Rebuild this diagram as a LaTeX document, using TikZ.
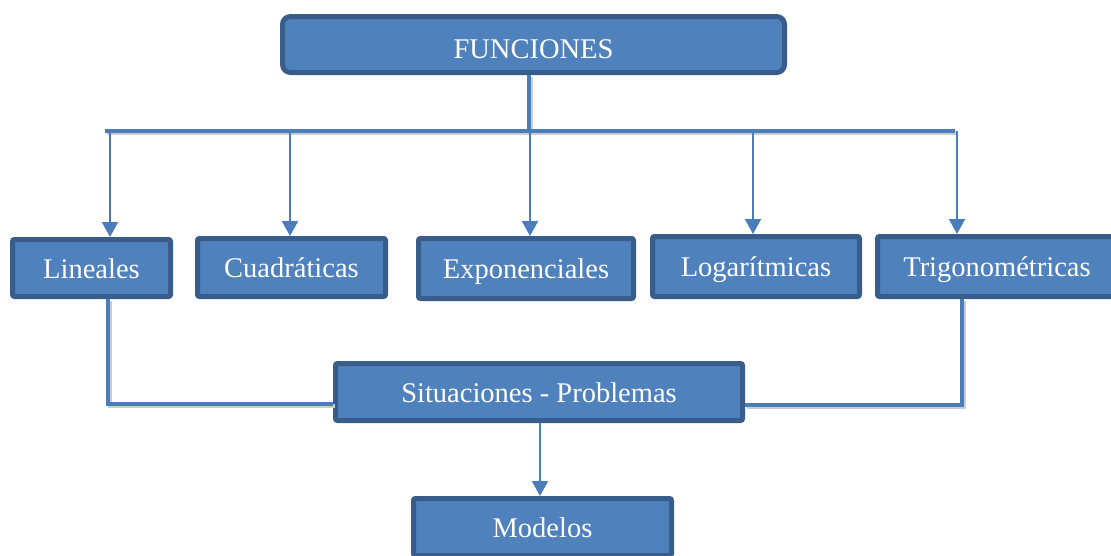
\documentclass[tikz,border=0pt]{standalone}
\usepackage{fontspec}
\setmainfont{Liberation Serif}
\usetikzlibrary{arrows.meta}
\definecolor{boxfill}{HTML}{4F81BD}
\definecolor{boxline}{HTML}{385D8A}
\definecolor{linkcol}{HTML}{4A7EBB}
\begin{document}
\begin{tikzpicture}[x=1pt, y=-1pt,
        every node/.style = {draw=boxline, fill=boxfill, line width=5pt,
            text=white, font=\fontsize{28.5}{32}\selectfont, inner sep=0pt,
            text height=22pt, text depth=2pt, rounded corners=2pt},
        link/.style = {draw=linkcol, line width=4pt,
            preaction={draw=black!20, line width=4pt, transform canvas={shift={(1.5pt,-2pt)}}}},
        arr/.style = {draw=linkcol, line width=2pt,
            -{Triangle[width=16pt,length=15pt]}}
        ]
    \useasboundingbox (0,0) rectangle (1111,555);
    % main box
    \node[minimum width=502pt, minimum height=56pt, rounded corners=8pt,
        text height=29pt] (fun) at (533.5,44.5) {FUNCIONES};
    % kinds of functions
    \node[minimum width=158pt, minimum height=57pt] (lin) at (91.5,268) {Lineales};
    \node[minimum width=188pt, minimum height=58pt] (cua) at (291.5,267.5) {Cuadráticas};
    \node[minimum width=215pt, minimum height=60pt] (exp) at (526,268.5) {Exponenciales};
    \node[minimum width=207pt, minimum height=60pt] (log) at (756,266.5) {Logarítmicas};
    \node[minimum width=239pt, minimum height=60pt] (tri) at (997,266.5) {Trigonométricas};
    % bottom
    \node[minimum width=407pt, minimum height=57pt] (sit) at (539,392) {Situaciones - Problemas};
    \node[minimum width=258pt, minimum height=57pt] (mod) at (542.5,527) {Modelos};
    % branching bar
    \coordinate (barL) at (105,131);
    \coordinate (barR) at (955,131);
    \draw[link] (fun.south -| 529,0) -- (529,131);
    \draw[link] (barL) -- (barR);
    \foreach \x/\n in {110/lin, 290/cua, 530/exp, 753/log, 957/tri}
        \draw[arr] (\x,131) -- (\x,0 |- \n.north);
    % joins into Situaciones - Problemas
    \draw[link] (108,0 |- lin.south) -- (108,404) -- (sit.west |- 0,404);
    \draw[link] (962,0 |- tri.south) -- (962,405) -- (sit.east |- 0,405);
    \draw[arr] (sit.south -| 540,0) -- (mod.north -| 540,0);
\end{tikzpicture}
\end{document}
